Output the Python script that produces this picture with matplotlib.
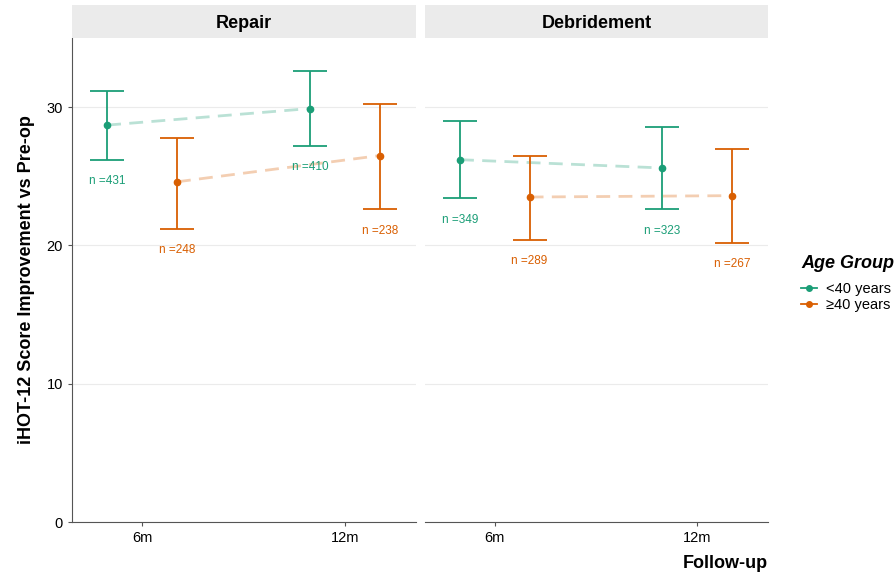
import matplotlib.pyplot as plt
import numpy as np

plt.rcParams['font.family'] = ['Liberation Sans', 'DejaVu Sans']

# data
panels = ['Repair', 'Debridement']
timepoints = ['6m', '12m']
groups = ['<40 years', '≥40 years']
colors = ['#1B9E77', '#D95F02']

# mean, lower, upper per panel -> group -> timepoint
mean = {
    'Repair': [[28.7, 29.9], [24.6, 26.5]],
    'Debridement': [[26.2, 25.6], [23.5, 23.6]],
}
lower = {
    'Repair': [[26.2, 27.2], [21.2, 22.6]],
    'Debridement': [[23.4, 22.6], [20.4, 20.2]],
}
upper = {
    'Repair': [[31.2, 32.6], [27.8, 30.2]],
    'Debridement': [[29.0, 28.6], [26.5, 27.0]],
}
n_labels = {
    'Repair': [[431, 410], [248, 238]],
    'Debridement': [[349, 323], [289, 267]],
}

fig = plt.figure(figsize=(8.96, 5.78), dpi=100)
W, H = 896, 578
panel_px = [(72, 416), (425, 768)]
top, bottom = 38, 522
dodge = 0.172
xpos = np.array([1, 2])

axes = []
for i, p in enumerate(panels):
    x0, x1 = panel_px[i]
    ax = fig.add_axes([x0 / W, (H - bottom) / H, (x1 - x0) / W, (bottom - top) / H])
    axes.append(ax)
    # strip
    sax = fig.add_axes([x0 / W, (H - top) / H, (x1 - x0) / W, 33 / H])
    sax.set_facecolor('#EBEBEB')
    sax.set_xticks([]); sax.set_yticks([])
    for s in sax.spines.values():
        s.set_visible(False)
    sax.text(0.5, 0.45, p, ha='center', va='center', fontsize=13, fontweight='bold')

    for g in range(2):
        off = -dodge if g == 0 else dodge
        xs = xpos + off
        m = np.array(mean[p][g])
        lo = np.array(lower[p][g])
        hi = np.array(upper[p][g])
        ax.plot(xs, m, '--', color=colors[g], alpha=0.3, lw=2, dashes=(5, 3), zorder=2)
        ax.errorbar(xs, m, yerr=[m - lo, hi - m], fmt='o', color=colors[g], ms=4.5,
                    capsize=12.5, elinewidth=1.3, capthick=1.3, zorder=3)
        for k in range(2):
            ax.text(xs[k], lo[k] - 1.55, 'n =%d' % n_labels[p][g][k], color=colors[g],
                    ha='center', va='center', fontsize=8.5)

    ax.set_xlim(0.655, 2.35)
    ax.set_ylim(0, 35)
    ax.set_xticks(xpos)
    ax.set_xticklabels(timepoints, fontsize=10.5)
    ax.set_yticks([0, 10, 20, 30])
    ax.yaxis.grid(True, color='#EBEBEB', lw=0.8)
    ax.set_axisbelow(True)
    for s in ['top', 'right']:
        ax.spines[s].set_visible(False)
    ax.spines['bottom'].set_color('#555555')
    ax.spines['left'].set_color('#555555')
    ax.tick_params(colors='#555555', labelcolor='black', length=3)
    if i == 0:
        ax.set_yticklabels(['0', '10', '20', '30'], fontsize=10.5)
        ax.set_ylabel('iHOT-12 Score Improvement vs Pre-op', fontsize=13,
                      fontweight='bold', labelpad=8)
    else:
        ax.spines['left'].set_visible(False)
        ax.tick_params(axis='y', left=False, labelleft=False)

fig.text(768 / W, 1 - 563 / H, 'Follow-up', ha='right', va='center', fontsize=13, fontweight='bold')

# legend
handles = [plt.Line2D([], [], color=c, marker='o', ms=4, lw=1.3) for c in colors]
leg = fig.legend(handles, groups, loc='upper left', bbox_to_anchor=(788 / W, 1 - 242 / H),
                 frameon=False, title='Age Group', fontsize=10.5, handlelength=1.1,
                 handletextpad=0.6, labelspacing=0.15, alignment='left')
leg.get_title().set_fontweight('bold')
leg.get_title().set_fontstyle('italic')
leg.get_title().set_fontsize(13)
leg._legend_box.sep = 7

fig.savefig('out.png', dpi=100)
